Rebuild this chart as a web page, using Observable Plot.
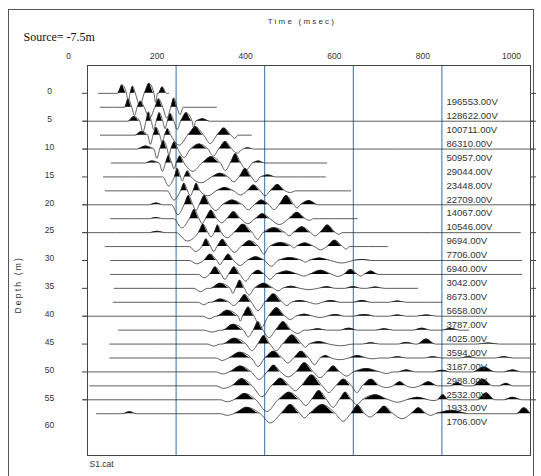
<!DOCTYPE html>
<html>
<head>
<meta charset="utf-8">
<script src="https://cdn.jsdelivr.net/npm/d3@7"></script>
<script src="https://cdn.jsdelivr.net/npm/@observablehq/plot@0.6"></script>
<style>
  html, body { margin: 0; padding: 0; background: #fff; }
  body { width: 541px; height: 476px; overflow: hidden; position: relative; font-family: "Liberation Sans", Arial, sans-serif; }
  #box { position: absolute; left: 8px; top: 9px; width: 526px; height: 480px; border: 1px solid #555; box-sizing: border-box; }
  #chart { position: absolute; left: 0; top: 0; }
</style>
</head>
<body>
<div id="box"></div>
<div id="chart"></div>
<script>
// Receiver depths (m), one trace every 2.5 m
const depths = [0, 2.5, 5, 7.5, 10, 12.5, 15, 17.5, 20, 22.5, 25, 27.5,
                30, 32.5, 35, 37.5, 40, 42.5, 45, 47.5, 50, 52.5, 55, 57.5];

// Peak amplitude of each trace (V), printed beside the trace
const peakVolts = [196553, 128622, 100711, 86310, 50957, 29044, 23448, 22709,
                   14067, 10546, 9694, 7706, 6940, 3042, 8673, 5658,
                   3787, 4025, 3594, 3187, 2988, 2532, 1933, 1706];

// Recorded time window of each trace (msec)
const extents = [[25, 183], [29, 291], [-9, 1007], [29, 370], [-9, 1007], [54, 540],
                 [36, 537], [40, 594], [-9, 1007], [52, 609], [-9, 977], [40, 677],
                 [52, 980], [52, 980], [60, 745], [58, 800], [-9, 1007], [70, 860],
                 [50, 1000], [50, 1000], [0, 1000], [5, 1000], [-9, 1000], [20, 1000]];

// Wavelet lobes per trace: [start msec, end msec, normalised amplitude]
// (amplitude 1 = one trace spacing, positive lobes are shaded)
const lobes = [
  [[68,88,0.5],[88,96,-0.5],[96,108,0.42],[108,128,-0.75],[128,150,0.6],[150,158,-0.55],[160,178,0.38]],
  [[84,100,0.5],[100,112,-0.5],[112,128,0.36],[128,152,-0.65],[152,170,0.5],[170,188,-0.65],[188,202,0.55],[202,216,-0.45]],
  [[92,118,0.28],[118,132,-0.65],[132,144,0.55],[144,155,-0.5],[155,170,0.5],[170,180,-0.45],[180,195,0.45],[195,210,-0.5],[210,236,0.5],[236,244,-0.42],[244,276,0.15]],
  [[108,136,0.22],[136,148,-0.55],[148,163,0.45],[163,174,-0.45],[174,188,0.38],[188,226,-0.6],[226,262,0.5],[262,292,-0.5],[292,324,0.42],[324,340,-0.2]],
  [[112,150,0.18],[150,163,-0.55],[163,180,0.5],[180,188,-0.4],[188,204,0.42],[204,232,-0.5],[232,272,0.3],[272,296,-0.42],[296,326,0.45],[326,350,-0.25],[350,375,0.08]],
  [[130,162,0.12],[162,176,-0.5],[176,190,0.45],[190,200,-0.35],[200,218,0.42],[218,258,-0.5],[258,300,0.38],[300,322,-0.45],[322,346,0.55],[346,372,-0.4],[372,400,0.12]],
  [[170,196,-0.55],[196,210,0.5],[210,218,-0.25],[218,234,0.36],[234,280,-0.35],[280,318,0.22],[318,342,-0.3],[342,370,0.5],[370,390,-0.3],[390,425,0.12]],
  [[180,210,-0.55],[210,226,0.45],[226,238,-0.3],[238,254,0.45],[254,290,-0.3],[290,330,0.2],[330,360,-0.25],[360,390,0.35],[390,412,-0.3],[412,446,0.38],[446,470,-0.1]],
  [[140,170,0.1],[190,218,-0.6],[218,238,0.55],[238,252,-0.35],[252,276,0.55],[276,304,-0.35],[304,350,0.28],[350,376,-0.3],[376,410,0.28],[410,432,-0.3],[432,466,0.55],[466,480,-0.2],[480,520,0.25]],
  [[140,170,0.08],[195,230,-0.55],[230,252,0.55],[252,266,-0.3],[266,292,0.5],[292,314,-0.25],[314,346,0.42],[346,378,-0.3],[378,412,0.3],[412,454,-0.35],[454,492,0.38],[492,510,-0.1]],
  [[140,175,0.08],[200,250,-0.5],[250,272,0.5],[272,286,-0.25],[286,302,0.45],[302,330,-0.3],[330,372,0.5],[372,396,-0.4],[396,446,0.3],[446,464,-0.2],[464,504,0.35],[504,524,-0.2],[524,560,0.45],[560,575,-0.1]],
  [[230,258,-0.3],[258,278,0.45],[278,292,-0.3],[292,318,0.42],[318,346,-0.35],[346,386,0.35],[386,410,-0.45],[410,462,0.25],[462,470,-0.1],[470,512,0.22],[512,540,-0.2],[540,576,0.38],[576,592,-0.15]],
  [[230,262,-0.2],[262,292,0.38],[292,306,-0.25],[306,330,0.38],[330,360,-0.3],[360,400,0.22],[400,430,-0.35],[430,484,0.18],[484,500,-0.1],[500,548,0.15],[548,600,-0.15],[600,640,0.06]],
  [[250,275,-0.2],[275,302,0.45],[302,318,-0.3],[318,344,0.45],[344,370,-0.4],[370,400,0.25],[400,424,-0.3],[424,476,0.2],[476,500,-0.1],[500,552,0.25],[552,578,-0.12],[578,610,0.3],[610,624,-0.1],[624,656,0.2]],
  [[240,270,-0.2],[278,322,0.3],[322,334,-0.3],[334,354,0.48],[354,376,-0.4],[376,420,0.3],[420,440,-0.15],[440,480,0.12],[480,520,-0.08],[520,560,0.1],[580,620,0.1],[630,670,0.08]],
  [[250,275,-0.15],[280,320,0.2],[320,340,-0.2],[340,370,0.45],[370,400,-0.5],[400,440,0.5],[440,460,-0.2],[460,500,0.1],[500,530,-0.1],[530,570,0.1],[600,640,0.1],[680,720,0.08]],
  [[260,290,-0.15],[292,340,0.35],[340,350,-0.3],[350,376,0.55],[376,408,-0.7],[408,446,0.5],[446,470,-0.2],[470,510,0.12],[510,540,-0.08],[540,580,0.1],[600,650,0.1],[680,720,0.08],[740,790,0.08]],
  [[262,300,-0.12],[306,352,0.35],[352,374,-0.4],[374,396,0.5],[396,424,-0.45],[424,460,0.5],[460,490,-0.2],[500,540,0.08],[570,610,0.12],[650,690,0.08],[735,775,0.12],[800,840,0.1]],
  [[270,300,-0.12],[305,358,0.35],[358,384,-0.4],[384,412,0.5],[412,440,-0.4],[440,484,0.55],[484,500,-0.2],[500,545,0.15],[545,600,-0.1],[620,660,0.08],[700,740,0.1],[745,785,0.3],[880,930,0.06]],
  [[290,318,-0.15],[318,370,0.35],[370,400,-0.5],[400,440,0.4],[440,465,-0.3],[465,500,0.4],[500,525,-0.4],[525,550,0.15],[550,590,-0.1],[590,630,0.15],[630,660,-0.05],[680,720,0.08],[760,800,0.08],[840,880,0.08],[920,960,0.08]],
  [[290,320,-0.12],[320,370,0.35],[370,405,-0.45],[405,436,0.4],[436,470,-0.3],[470,510,0.55],[510,540,-0.35],[540,570,0.35],[570,600,-0.25],[600,660,0.2],[660,690,-0.1],[700,740,0.12],[780,820,0.1],[870,920,0.3],[940,980,0.12]],
  [[290,325,-0.15],[325,372,0.42],[372,415,-0.65],[415,456,0.45],[456,482,-0.3],[482,530,0.65],[530,560,-0.4],[560,596,0.4],[596,620,-0.4],[620,660,0.4],[660,690,-0.1],[690,720,0.25],[720,750,-0.1],[750,790,0.25],[820,850,0.2],[870,915,0.4],[930,960,0.15]],
  [[300,330,-0.12],[330,380,0.38],[380,430,-0.7],[430,480,0.45],[480,505,-0.35],[505,540,0.55],[540,568,-0.45],[568,596,0.45],[596,620,-0.3],[620,680,0.3],[680,720,-0.15],[720,770,0.15],[770,790,-0.05],[790,815,0.3],[880,920,0.4],[940,980,0.15]],
  [[80,110,0.12],[300,330,-0.1],[330,390,0.38],[390,436,-0.55],[436,480,0.55],[480,500,-0.25],[500,560,0.55],[560,594,-0.45],[594,626,0.5],[626,650,-0.2],[650,690,0.45],[690,730,-0.3],[730,765,0.35],[765,785,-0.1],[785,860,0.2],[970,1000,0.35]]
];

// Axis ticks
const timeTicks = [0, 200, 400, 600, 800, 1000];
const gridTimes = [200, 400, 600, 800];
const depthLabels = [0, 5, 10, 15, 20, 25, 30, 35, 40, 45, 50, 55, 60];
const depthTicks = [0, 5, 10, 15, 20, 25, 30, 35, 40, 45, 50, 55];

const sourceText = "Source= -7.5m";
const timeTitle = "Time (msec)";
const depthTitle = "Depth (m)";
const fileName = "S1.cat";

const spacing = 2.5; // metres between traces
const gain = 1.2;    // display gain applied to the normalised wiggles

// Turn each trace's lobes into a zero-based wiggle (time, amplitude) series
const samples = depths.flatMap((depth, i) => {
  const m = new Map();
  const [t0, t1] = extents[i];
  m.set(t0, 0);
  m.set(t1, 0);
  for (const [a, b, amp] of lobes[i]) {
    if (!m.has(a)) m.set(a, 0);
    if (!m.has(b)) m.set(b, 0);
    m.set((a + b) / 2, amp);
  }
  return [...m].sort((p, q) => p[0] - q[0]).map(([t, a]) => ({trace: i, depth, t, a}));
});

const labelRows = peakVolts.map((v, i) => ({depth: depths[i], text: v.toFixed(2) + "V"}));

const chart = Plot.plot({
  width: 541,
  height: 476,
  marginLeft: 87,
  marginRight: 11,
  marginTop: 65,
  marginBottom: 21,
  x: {domain: [0, 1000], axis: null},
  y: {domain: [-5, 65], reverse: true, axis: null},
  style: {fontFamily: "'Liberation Sans', Arial, sans-serif", fontSize: "8px", color: "#333", background: "transparent", overflow: "visible"},
  marks: [
    Plot.ruleX(gridTimes, {stroke: "#2f6fad", strokeWidth: 1}),
    Plot.areaY(samples, {
      x: "t", y1: "depth", y2: d => d.depth - Math.max(0, d.a) * spacing * gain,
      z: "trace", curve: "monotone-x", fill: "#000"
    }),
    Plot.line(samples, {
      x: "t", y: d => d.depth - d.a * spacing * gain,
      z: "trace", curve: "monotone-x", stroke: "#2a2a2a", strokeWidth: 0.75
    }),
    Plot.frame({stroke: "#444", strokeWidth: 1}),
    Plot.axisY(depthTicks, {anchor: "left", tickSize: 5, tickFormat: () => "", label: null, stroke: "#444"}),
    Plot.axisY(depthTicks, {anchor: "right", tickSize: 5, tickFormat: () => "", label: null, stroke: "#444"}),
    Plot.text(depthLabels, {y: d => d, text: d => String(d), frameAnchor: "left", dx: -38, dy: -2, textAnchor: "middle", fontSize: 8.5, fill: "#333"}),
    Plot.text(timeTicks, {x: d => d, text: d => String(d), frameAnchor: "top", dx: -19, dy: -13, textAnchor: "middle", fontSize: 8.5, fill: "#333"}),
    Plot.text([timeTitle], {frameAnchor: "top", dx: -7, dy: -47, fontSize: 8, fill: "#333", text: d => d}),
    Plot.text([depthTitle], {frameAnchor: "left", dx: -69, dy: 53, rotate: -90, fontSize: 8.5, fill: "#333", text: d => d}),
    Plot.text([sourceText], {frameAnchor: "top-left", dx: -64, dy: -33, textAnchor: "start", fontSize: 12, fontFamily: "'Liberation Serif', 'Times New Roman', serif", fill: "#111", text: d => d}),
    Plot.text([fileName], {frameAnchor: "bottom-left", dx: 2, dy: 11, textAnchor: "start", fontSize: 8.5, fill: "#333", text: d => d}),
    Plot.text(labelRows, {y: d => d.depth + 1.55, text: "text", frameAnchor: "right", dx: -84, textAnchor: "start", fontSize: 9.5, fill: "#333"})
  ]
});

// Widely tracked axis titles
d3.select(chart).selectAll("text")
  .filter(function () { return this.textContent === timeTitle || this.textContent === depthTitle; })
  .style("letter-spacing", "2.2px");

document.getElementById("chart").append(chart);
</script>
</body>
</html>
